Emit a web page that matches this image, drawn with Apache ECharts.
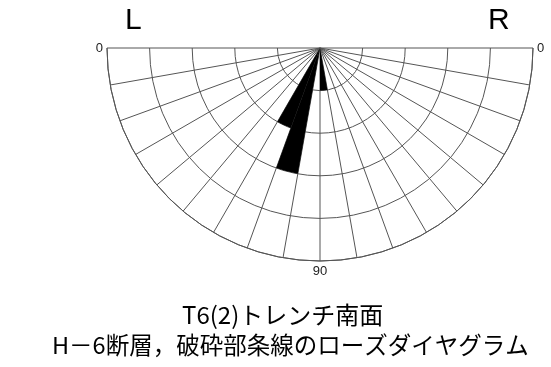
<!DOCTYPE html>
<html style="height: 100%">
<head>
    <meta charset="utf-8">
</head>
<body style="height: 100%; margin: 0; background: #fff">
<div id="container" style="width: 551px; height: 367px"></div>
<script type="text/javascript" src="https://cdn.jsdelivr.net/npm/echarts@6/dist/echarts.min.js"></script>
<script type="text/javascript">
  // 10 degree bins, from the left horizontal (0) through vertical (90) to the right horizontal
  const bins = ['0-10', '10-20', '20-30', '30-40', '40-50', '50-60', '60-70', '70-80', '80-90',
                '90-100', '100-110', '110-120', '120-130', '130-140', '140-150', '150-160', '160-170', '170-180'];
  const counts = [0, 0, 0, 0, 0, 0, 2, 3, 0, 1, 0, 0, 0, 0, 0, 0, 0, 0];
  const angleLabels = {0: '0', 90: '90', 180: '0'};
  const sideLabels = ['L', 'R'];
  const titleLines = ['T6(2)トレンチ南面', 'H－6断層，破砕部条線のローズダイヤグラム'];

  const font = '"Noto Sans CJK JP", "Liberation Sans", sans-serif';
  const gridColor = '#555';
  const center = [320, 48];
  const radius = 213;

  var dom = document.getElementById('container');
  var myChart = echarts.init(dom);
  var option = {
    animation: false,
    title: [
      {text: sideLabels[0], left: 120, top: 1, textStyle: {fontFamily: 'Liberation Sans', fontSize: 30, fontWeight: 'normal', color: '#000'}},
      {text: sideLabels[1], left: 483, top: 1, textStyle: {fontFamily: 'Liberation Sans', fontSize: 30, fontWeight: 'normal', color: '#000'}},
      {text: titleLines[0], left: 177, top: 298, textStyle: {fontFamily: font, fontSize: 24, fontWeight: 'normal', color: '#000'}},
      {text: titleLines[1], left: 47, top: 328, textStyle: {fontFamily: font, fontSize: 23.5, fontWeight: 'normal', color: '#000'}}
    ],
    polar: [
      {center: center, radius: radius},
      {center: center, radius: radius}
    ],
    angleAxis: [
      {
        polarIndex: 0,
        type: 'value',
        min: 0,
        max: 180,
        interval: 10,
        startAngle: 180,
        endAngle: 360,
        clockwise: false,
        axisLine: {show: true, lineStyle: {color: gridColor, width: 1}},
        axisTick: {show: false},
        splitLine: {show: true, lineStyle: {color: gridColor, width: 1}},
        axisLabel: {
          margin: 4,
          fontSize: 13,
          color: '#222',
          fontFamily: 'Liberation Sans',
          formatter: function (v) { return angleLabels[v] !== undefined ? angleLabels[v] : ''; }
        }
      },
      {
        polarIndex: 1,
        type: 'category',
        data: bins,
        startAngle: 180,
        endAngle: 360,
        clockwise: false,
        axisLine: {show: false},
        axisTick: {show: false},
        axisLabel: {show: false},
        splitLine: {show: false}
      }
    ],
    radiusAxis: [
      {
        polarIndex: 0,
        type: 'value',
        min: 0,
        max: 5,
        interval: 1,
        axisLine: {show: false},
        axisTick: {show: false},
        axisLabel: {show: false},
        splitLine: {show: true, lineStyle: {color: gridColor, width: 1}}
      },
      {
        polarIndex: 1,
        type: 'value',
        min: 0,
        max: 5,
        axisLine: {show: false},
        axisTick: {show: false},
        axisLabel: {show: false},
        splitLine: {show: false}
      }
    ],
    series: [
      {
        type: 'bar',
        coordinateSystem: 'polar',
        polarIndex: 1,
        data: counts,
        barCategoryGap: '0%',
        itemStyle: {color: '#000'},
        z: 3
      }
    ]
  };
  myChart.setOption(option);
</script>
</body>
</html>
